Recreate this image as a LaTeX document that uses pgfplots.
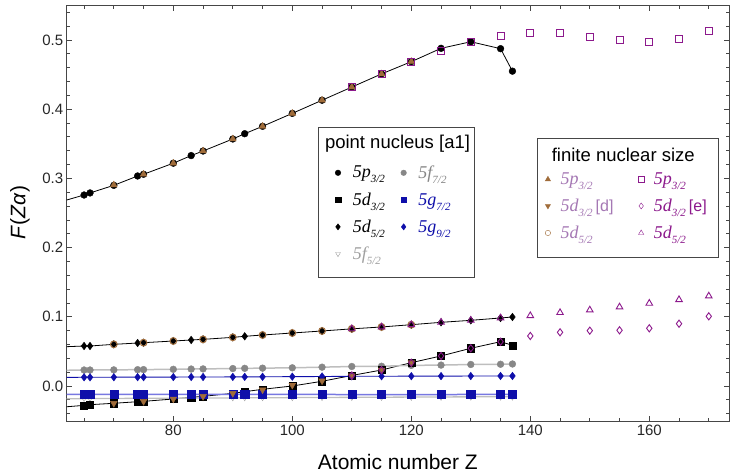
\documentclass[border=0pt]{standalone}
\usepackage{fontspec}
\setmainfont{Liberation Sans}
\newfontfamily\serif{Liberation Serif}
\usepackage{pgfplots}
\pgfplotsset{compat=1.18}
\definecolor{brn}{RGB}{160,108,58}
\definecolor{pur}{RGB}{140,25,140}
\definecolor{lpur}{RGB}{165,120,180}
\definecolor{gry}{RGB}{135,135,135}
\definecolor{lgry}{RGB}{190,190,190}
\definecolor{lgry2}{RGB}{160,160,160}
\definecolor{dblue}{RGB}{15,15,170}
\definecolor{lblue}{RGB}{120,120,225}
\definecolor{frm}{RGB}{70,70,70}
\newcommand{\lt}[2]{{\serif\itshape #1\raisebox{-5pt}{\fontsize{11}{11}\selectfont #2}}}
\pgfplotsset{base/.style={scale only axis, width=662.3pt, height=415.3pt,
  xmin=62.08, xmax=173.4, ymin=-0.0506, ymax=0.5496, at={(0pt,0pt)}, anchor=south west,
  legend image code/.code={\draw[##1] plot coordinates {(0pt,0pt)};},
  legend cell align=left, legend columns=2}}
\begin{document}
\begin{tikzpicture}
\begin{axis}[base,
  axis line style={draw=frm, line width=1pt},
  tick style={frm, line width=0.8pt}, tick align=inside,
  major tick length=5pt, minor tick length=3pt,
  xtick={80,100,120,140,160}, minor xtick={65,70,75,85,90,95,105,110,115,125,130,135,145,150,155,165,170},
  ytick={0,0.1,0.2,0.3,0.4,0.5},
  minor ytick={-0.04,-0.02,0.02,0.04,0.06,0.08,0.12,0.14,0.16,0.18,0.22,0.24,0.26,0.28,0.32,0.34,0.36,0.38,0.42,0.44,0.46,0.48,0.52,0.54},
  ticklabel style={font=\fontsize{15}{15}\selectfont, text=black!85},
  /pgf/number format/assume math mode=true,
  yticklabel style={/pgf/number format/.cd, fixed, fixed zerofill, precision=1},
  xlabel={Atomic number Z}, ylabel={\textit{F}(\textit{Zα})},
  label style={font=\fontsize{21}{21}\selectfont},
  xlabel style={at={(axis description cs:0.5,0)}, anchor=center, yshift=-41pt},
  ylabel style={at={(axis description cs:-0.0705,0.502)}, anchor=center},
  legend style={draw=none, fill=none, at={(axis description cs:0.4051,0.6152)}, anchor=north west,
    inner sep=0pt, row sep=13pt, nodes={inner sep=0pt, text depth=0.15em},
    /tikz/every odd column/.append style={column sep=12pt},
    /tikz/every even column/.append style={column sep=16pt},
    font=\fontsize{18}{18}\selectfont},
]
% lines
\addplot[forget plot, no marks, black, line width=0.8pt] coordinates {(62.08,0.2688) (65,0.276) (66,0.279) (70,0.290) (74,0.3035) (75,0.306) (80,0.322) (83,0.333) (85,0.3396) (90,0.357) (92,0.3646) (95,0.3753) (100,0.394) (105,0.413) (110,0.432) (115,0.451) (120,0.4687) (125,0.488) (130,0.4975) (135,0.4875) (137,0.455)};
\addplot[forget plot, no marks, black, line width=0.8pt] coordinates {(62.08,-0.030) (65,-0.028) (66,-0.027) (70,-0.025) (74,-0.0227) (75,-0.0222) (80,-0.0188) (83,-0.0164) (85,-0.015) (90,-0.0106) (92,-0.0082) (95,-0.0048) (100,0.000) (105,0.0068) (110,0.0152) (115,0.0231) (120,0.0337) (125,0.0434) (130,0.0545) (135,0.064) (137,0.0588)};
\addplot[forget plot, no marks, black, line width=0.8pt] coordinates {(62.08,0.0568) (65,0.0578) (66,0.0578) (70,0.0602) (74,0.0621) (75,0.0626) (80,0.065) (83,0.0665) (85,0.0674) (90,0.0703) (92,0.0718) (95,0.0737) (100,0.0766) (105,0.0795) (110,0.0826) (115,0.0853) (120,0.0886) (125,0.092) (130,0.0949) (135,0.0983) (137,0.0997)};
\addplot[forget plot, no marks, lgry, line width=1.5pt] coordinates {(62.08,0.0227) (65,0.0231) (66,0.0231) (70,0.0233) (74,0.0236) (75,0.0237) (80,0.0241) (83,0.0245) (85,0.0247) (90,0.0252) (92,0.0255) (95,0.0258) (100,0.0263) (105,0.0272) (110,0.0282) (115,0.0285) (120,0.0298) (125,0.0302) (130,0.0311) (135,0.0314) (137,0.0318)};
\addplot[forget plot, no marks, lgry, line width=1.3pt] coordinates {(62.08,-0.0185) (65,-0.0182) (70,-0.018) (75,-0.0178) (80,-0.0176) (85,-0.0174) (90,-0.0172) (95,-0.017) (100,-0.0168) (105,-0.0166) (110,-0.0164) (115,-0.0162) (120,-0.016) (125,-0.0158) (130,-0.0157) (135,-0.0155) (137,-0.0155)};
\addplot[forget plot, no marks, dblue, line width=0.9pt] coordinates {(62.08,0.0125) (65,0.0126) (66,0.0126) (70,0.0127) (74,0.0128) (75,0.0128) (80,0.0129) (83,0.013) (85,0.013) (90,0.0131) (92,0.0132) (95,0.0133) (100,0.0135) (105,0.0137) (110,0.014) (115,0.0141) (120,0.0142) (125,0.0143) (130,0.0144) (135,0.0145) (137,0.0145)};
\addplot[forget plot, no marks, lblue, line width=1.5pt] coordinates {(62.08,-0.0121) (65,-0.0121) (66,-0.0121) (70,-0.0121) (74,-0.0121) (75,-0.0121) (80,-0.012) (83,-0.012) (85,-0.012) (90,-0.012) (92,-0.012) (95,-0.012) (100,-0.012) (105,-0.0122) (110,-0.0124) (115,-0.0124) (120,-0.0124) (125,-0.0124) (130,-0.0122) (135,-0.012) (137,-0.012)};
% marks
\addplot[forget plot, only marks, lgry2, mark=triangle, mark size=2.5pt, mark options={rotate=180}] coordinates {(65,-0.0188) (66,-0.0188) (70,-0.0186) (74,-0.0185) (75,-0.0185) (80,-0.0183) (83,-0.0182) (85,-0.0181) (90,-0.018) (92,-0.0179) (95,-0.0178) (100,-0.0177) (105,-0.0176) (110,-0.0175) (115,-0.0174) (120,-0.0173) (125,-0.0172) (130,-0.0171) (135,-0.017) (137,-0.017)};
\addplot[forget plot, only marks, gry, mark=*, mark size=3.4pt] coordinates {(65,0.0231) (66,0.0231) (70,0.0233) (74,0.0236) (75,0.0237) (80,0.0241) (83,0.0245) (85,0.0247) (90,0.0252) (92,0.0255) (95,0.0258) (100,0.0263) (105,0.0272) (110,0.0282) (115,0.0285) (120,0.0298) (125,0.0302) (130,0.0311) (135,0.0314) (137,0.0318)};
\addplot[forget plot, only marks, black, mark=square*, mark size=3.6pt] coordinates {(65,-0.028) (66,-0.027) (70,-0.025) (74,-0.0227) (75,-0.0222) (80,-0.0188) (83,-0.0164) (85,-0.015) (90,-0.0106) (92,-0.0082) (95,-0.0048) (100,0.000) (105,0.0068) (110,0.0152) (115,0.0231) (120,0.0337) (125,0.0434) (130,0.0545) (135,0.064) (137,0.0588)};
\addplot[forget plot, only marks, black, mark=diamond*, mark size=3.8pt] coordinates {(65,0.0578) (66,0.0578) (70,0.0602) (74,0.0621) (75,0.0626) (80,0.065) (83,0.0665) (85,0.0674) (90,0.0703) (92,0.0718) (95,0.0737) (100,0.0766) (105,0.0795) (110,0.0826) (115,0.0853) (120,0.0886) (125,0.092) (130,0.0949) (135,0.0983) (137,0.0997)};
\addplot[forget plot, only marks, black, mark=*, mark size=3.4pt] coordinates {(65,0.276) (66,0.279) (70,0.290) (74,0.3035) (75,0.306) (80,0.322) (83,0.333) (85,0.3396) (90,0.357) (92,0.3646) (95,0.3753) (100,0.394) (105,0.413) (110,0.432) (115,0.451) (120,0.4687) (125,0.488) (130,0.4975) (135,0.4875) (137,0.455)};
\addplot[forget plot, only marks, dblue, mark=diamond*, mark size=3.8pt] coordinates {(65,0.0126) (66,0.0126) (70,0.0127) (74,0.0128) (75,0.0128) (80,0.0129) (83,0.013) (85,0.013) (90,0.0131) (92,0.0132) (95,0.0133) (100,0.0135) (105,0.0137) (110,0.014) (115,0.0141) (120,0.0142) (125,0.0143) (130,0.0144) (135,0.0145) (137,0.0145)};
\addplot[forget plot, only marks, dblue, mark=square*, mark size=4.1pt] coordinates {(65,-0.0121) (66,-0.0121) (70,-0.0121) (74,-0.0121) (75,-0.0121) (80,-0.012) (83,-0.012) (85,-0.012) (90,-0.012) (92,-0.012) (95,-0.012) (100,-0.012) (105,-0.0122) (110,-0.0124) (115,-0.0124) (120,-0.0124) (125,-0.0124) (130,-0.0122) (135,-0.012) (137,-0.012)};
% legend box and title
\draw[frm, line width=1pt, fill=white] (axis description cs:0.3809,0.7079) rectangle (axis description cs:0.6150,0.3467);
\node[anchor=base, font=\fontsize{18.5}{18.5}\selectfont] at (axis description cs:0.4995,0.6562) {point nucleus [a1]};
% legend entries
\addlegendimage{mark=*, black, mark size=2.8pt}
\addlegendentry{\lt{5p}{3/2}}
\addlegendimage{mark=*, gry, mark size=2.8pt}
\addlegendentry{\textcolor{gry}{\lt{5f}{7/2}}}
\addlegendimage{mark=square*, black, mark size=2.8pt}
\addlegendentry{\lt{5d}{3/2}}
\addlegendimage{mark=square*, dblue, mark size=2.8pt}
\addlegendentry{\textcolor{dblue}{\lt{5g}{7/2}}}
\addlegendimage{mark=diamond*, black, mark size=3.1pt}
\addlegendentry{\lt{5d}{5/2}}
\addlegendimage{mark=diamond*, dblue, mark size=3.1pt}
\addlegendentry{\textcolor{dblue}{\lt{5g}{9/2}}}
\addlegendimage{mark=triangle, lgry2, mark size=2.8pt, mark options={rotate=180}}
\addlegendentry{\textcolor{lgry2}{\lt{5f}{5/2}}}
\end{axis}
\begin{axis}[base, hide axis,
  legend style={draw=none, fill=none, at={(axis description cs:0.7222,0.5984)}, anchor=north west,
    inner sep=0pt, row sep=13pt, nodes={inner sep=0pt, text depth=0.15em},
    /tikz/every odd column/.append style={column sep=10pt},
    /tikz/every even column/.append style={column sep=25pt},
    font=\fontsize{18}{18}\selectfont},
]
% finite nuclear size [d]
\addplot[forget plot, only marks, brn, mark=triangle*, mark size=3.9pt] coordinates {(70,0.2905) (75,0.306) (80,0.322) (85,0.3396) (90,0.357) (95,0.3753) (100,0.394) (105,0.413) (110,0.432) (115,0.451) (120,0.469)};
\addplot[forget plot, only marks, brn, mark=triangle*, mark size=3.9pt, mark options={rotate=180}] coordinates {(70,-0.025) (75,-0.0222) (80,-0.0188) (85,-0.015) (90,-0.0106) (95,-0.0055) (100,0.0012) (105,0.0075) (110,0.0148) (115,0.023) (120,0.0337)};
\addplot[forget plot, only marks, brn, mark=o, mark size=3.4pt, line width=1pt] coordinates {(70,0.0602) (75,0.0626) (80,0.065) (85,0.0674) (90,0.0703) (95,0.0737) (100,0.0766) (105,0.0795) (110,0.0826) (115,0.0853) (120,0.0886)};
% finite nuclear size [e]
\addplot[forget plot, only marks, pur, mark=square, mark size=3.5pt, line width=0.9pt] coordinates {(110,0.432) (115,0.451) (120,0.468) (125,0.484) (130,0.4975) (135,0.506) (140,0.5106) (145,0.5096) (150,0.5048) (155,0.4995) (160,0.4976) (165,0.5014) (170,0.5134)};
\addplot[forget plot, only marks, pur, mark=diamond, mark size=3.6pt, line width=0.9pt] coordinates {(110,0.0152) (115,0.0231) (120,0.0337) (125,0.0434) (130,0.0545) (135,0.064) (140,0.0723) (145,0.0776) (150,0.080) (155,0.0805) (160,0.0834) (165,0.090) (170,0.1007)};
\addplot[forget plot, only marks, pur, mark=triangle, mark size=3.8pt, line width=0.9pt] coordinates {(110,0.0826) (115,0.0853) (120,0.0886) (125,0.092) (130,0.0949) (135,0.0983) (140,0.1016) (145,0.106) (150,0.1098) (155,0.1142) (160,0.1195) (165,0.1247) (170,0.130)};
% legend box and title
\draw[frm, line width=1pt, fill=white] (axis description cs:0.7101,0.6814) rectangle (axis description cs:0.9834,0.3949);
\node[anchor=base, font=\fontsize{18.5}{18.5}\selectfont] at (axis description cs:0.8404,0.6249) {finite nuclear size};
\addlegendimage{mark=triangle*, brn, mark size=3pt}
\addlegendentry{\textcolor{lpur}{\lt{5p}{3/2}}}
\addlegendimage{mark=square, pur, mark size=2.7pt}
\addlegendentry{\textcolor{pur}{\lt{5p}{3/2}}}
\addlegendimage{mark=triangle*, brn, mark size=3pt, mark options={rotate=180}}
\addlegendentry{\textcolor{lpur}{\lt{5d}{3/2}\,\fontsize{16}{16}\selectfont [d]}}
\addlegendimage{mark=diamond, pur, mark size=3pt}
\addlegendentry{\textcolor{pur}{\lt{5d}{3/2}\,\fontsize{16}{16}\selectfont [e]}}
\addlegendimage{mark=o, brn, mark size=2.7pt}
\addlegendentry{\textcolor{lpur}{\lt{5d}{5/2}}}
\addlegendimage{mark=triangle, pur, mark size=3pt}
\addlegendentry{\textcolor{pur}{\lt{5d}{5/2}}}
\end{axis}
\pgfresetboundingbox
\path[use as bounding box] (-66.7pt,-54pt) rectangle (663.3pt,421pt);
\end{tikzpicture}
\end{document}
